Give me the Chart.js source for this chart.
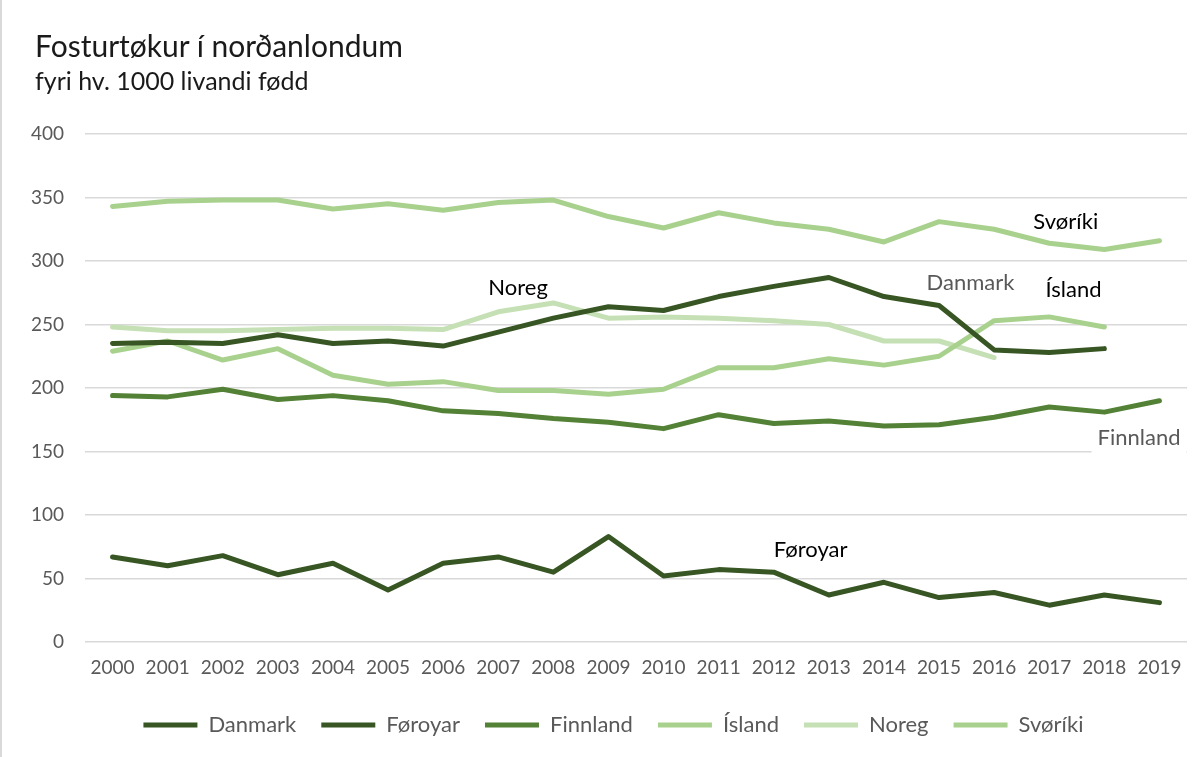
<!DOCTYPE html>
<html>
<head>
<meta charset="utf-8">
<script src="https://cdn.jsdelivr.net/npm/chart.js@4/dist/chart.umd.min.js"></script>
<style>
  html, body { margin: 0; padding: 0; background: #fff; }
  #wrap { position: relative; width: 1203px; height: 757px; border-left: 2px solid #d9d9d9; box-sizing: border-box; }
  #chart { position: absolute; left: 0; top: 0; }
  .title { position: absolute; left: 33px; font-family: Lato, "Open Sans", sans-serif; color: #1a1a1a; white-space: nowrap; line-height: 1.2; }
  #t1 { top: 27px; font-size: 30px; }
  #t2 { top: 65px; font-size: 25px; }
</style>
</head>
<body>
<div id="wrap">
  <canvas id="chart" width="1201" height="757"></canvas>
  <div class="title" id="t1">Fosturtøkur í norðanlondum</div>
  <div class="title" id="t2">fyri hv. 1000 livandi fødd</div>
</div>
<script>
const years = ["2000", "2001", "2002", "2003", "2004", "2005", "2006", "2007", "2008", "2009",
  "2010", "2011", "2012", "2013", "2014", "2015", "2016", "2017", "2018", "2019"];

const danmark = [235, 236, 235, 242, 235, 237, 233, 244, 255, 264, 261, 272, 280, 287, 272, 265, 230, 228, 231, null];
const foroyar = [67, 60, 68, 53, 62, 41, 62, 67, 55, 83, 52, 57, 55, 37, 47, 35, 39, 29, 37, 31];
const finnland = [194, 193, 199, 191, 194, 190, 182, 180, 176, 173, 168, 179, 172, 174, 170, 171, 177, 185, 181, 190];
const island = [229, 237, 222, 231, 210, 203, 205, 198, 198, 195, 199, 216, 216, 223, 218, 225, 253, 256, 248, null];
const noreg = [248, 245, 245, 246, 247, 247, 246, 260, 267, 255, 256, 255, 253, 250, 237, 237, 224, null, null, null];
const svoriki = [343, 347, 348, 348, 341, 345, 340, 346, 348, 335, 326, 338, 330, 325, 315, 331, 325, 314, 309, 316];

const yTicks = [0, 50, 100, 150, 200, 250, 300, 350, 400];

// series name labels placed inside the plot (category index, value)
const seriesLabels = [
  { text: "Noreg", x: 7.36, y: 279, color: "#000" },
  { text: "Danmark", x: 15.57, y: 283, color: "#595959" },
  { text: "Svøríki", x: 17.3, y: 331, color: "#000" },
  { text: "Ísland", x: 17.44, y: 277, color: "#000" },
  { text: "Finnland", x: 18.63, y: 161, color: "#595959", bg: true },
  { text: "Føroyar", x: 12.67, y: 72.6, color: "#000" },
];

const FONT = "Lato, 'Open Sans', sans-serif";

function line(label, data, color) {
  return {
    label,
    data,
    borderColor: color,
    backgroundColor: color,
    borderWidth: 5,
    borderCapStyle: "round",
    borderJoinStyle: "round",
    pointRadius: 0,
    pointHoverRadius: 0,
    tension: 0,
    spanGaps: false,
  };
}

const labelPlugin = {
  id: "seriesLabels",
  afterLayout(chart) {
    // the legend sits a little right of the canvas centre
    chart.legend.left += 19;
    chart.legend.right += 19;
  },
  afterDatasetsDraw(chart) {
    const { ctx, scales } = chart;
    ctx.save();
    ctx.font = `22px ${FONT}`;
    ctx.textAlign = "center";
    ctx.textBaseline = "middle";
    seriesLabels.forEach((item) => {
      const px = scales.x.getPixelForValue(item.x);
      const py = scales.y.getPixelForValue(item.y);
      if (item.bg) {
        const w = ctx.measureText(item.text).width + 12;
        ctx.fillStyle = "#fff";
        ctx.fillRect(px - w / 2, py - 16, w, 34);
      }
      ctx.fillStyle = item.color;
      ctx.fillText(item.text, px, py);
    });
    ctx.restore();
  },
};

new Chart(document.getElementById("chart"), {
  type: "line",
  data: {
    labels: years,
    datasets: [
      line("Danmark", danmark, "#375623"),
      line("Føroyar", foroyar, "#375623"),
      line("Finnland", finnland, "#538135"),
      line("Ísland", island, "#a9d18e"),
      line("Noreg", noreg, "#c5e0b4"),
      line("Svøríki", svoriki, "#a9d18e"),
    ],
  },
  options: {
    responsive: false,
    animation: false,
    layout: { padding: { top: 134, right: 16, bottom: 11, left: 0 } },
    plugins: {
      tooltip: { enabled: false },
      title: { display: false },
      legend: {
        position: "bottom",
        labels: {
          usePointStyle: true,
          pointStyle: "line",
          pointStyleWidth: 54,
          boxHeight: 22,
          padding: 25,
          color: "#595959",
          font: { family: FONT, size: 22 },
        },
      },
    },
    scales: {
      x: {
        offset: true,
        grid: { display: false, drawTicks: false },
        border: { display: false },
        ticks: { color: "#595959", font: { family: FONT, size: 19 }, padding: 14, maxRotation: 0, autoSkip: false },
        afterFit(scale) { scale.height = 47; },
      },
      y: {
        min: 0,
        max: 400,
        afterBuildTicks(scale) { scale.ticks = yTicks.map((value) => ({ value })); },
        grid: { color: "#d9d9d9", lineWidth: 1.5, drawTicks: false },
        border: { display: false },
        ticks: { color: "#595959", font: { family: FONT, size: 19 }, padding: 21 },
        afterFit(scale) { scale.width = 83; },
      },
    },
  },
  plugins: [labelPlugin],
});
</script>
</body>
</html>
